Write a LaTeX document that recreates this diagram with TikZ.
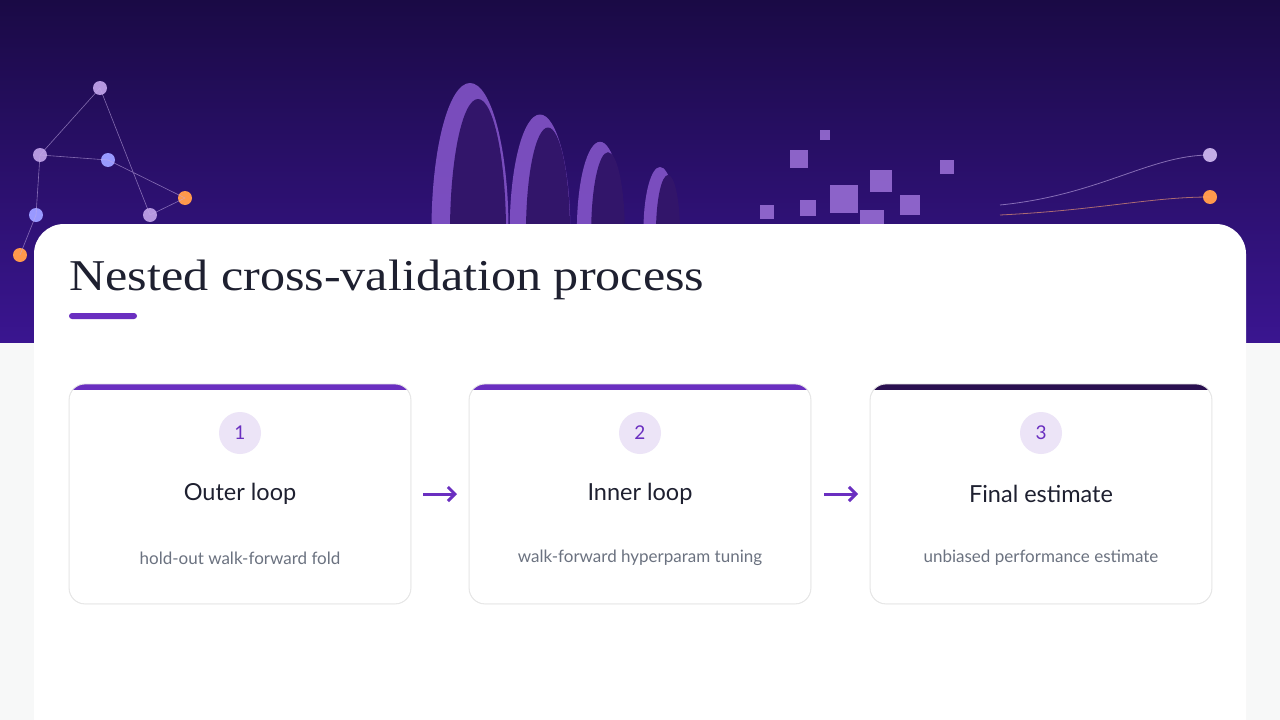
\documentclass[tikz,border=0pt]{standalone}
\usepackage{fontspec}
\setmainfont{Lato}
\usetikzlibrary{arrows.meta,shadows}
\definecolor{hdr}{HTML}{1A0A45}
\definecolor{hdrb}{HTML}{3A1590}
\definecolor{pur}{HTML}{6A2FC0}
\definecolor{dpur}{HTML}{2A1050}
\definecolor{circ}{HTML}{ECE4F7}
\definecolor{bg}{HTML}{F7F8F8}
\definecolor{sub}{HTML}{6B7280}
\definecolor{ttl}{HTML}{1E2030}
\begin{document}
\begin{tikzpicture}[x=1pt,y=-1pt,
  card/.style={draw=black!10,fill=white,rounded corners=16pt,line width=0.8pt},
  num/.style={circle,fill=circ,minimum size=42pt,inner sep=0,text=pur,font=\fontsize{19}{19}\selectfont},
  ctitle/.style={text=ttl,font=\fontsize{23.5}{23.5}\selectfont},
  csub/.style={text=sub,font=\fontsize{17}{17}\selectfont},
  arr/.style={-{Straight Barb[length=7pt,width=14pt]},line width=3pt,pur}]
\useasboundingbox (0,0) rectangle (1280,720);
\fill[bg] (0,0) rectangle (1280,720);
\shade[top color=hdr,bottom color=hdrb] (0,0) rectangle (1280,342);
% decorative header elements
\foreach \x/\r in {470/70,540/55,600/42,660/30}{
  \fill[pur!80!white,opacity=.85] (\x,230) ellipse ({\r*0.55} and {\r*2.1});
  \fill[hdr!70!pur] (\x+8,232) ellipse ({\r*0.4} and {\r*1.9});
}
\foreach \x/\y/\s in {790/150/18,830/185/28,870/170/22,800/200/16,900/195/20,940/160/14,860/210/24,760/205/14,820/130/10}{
  \fill[pur!70!white,opacity=.9] (\x,\y) rectangle ++(\s,\s);
}
\foreach \x/\y/\c in {40/155/pur!50!white,100/88/pur!50!white,150/215/pur!50!white,185/198/orange!60!pink,20/255/orange!60!pink,1210/155/pur!40!white,1210/197/orange!60!pink,36/215/blue!40!white,108/160/blue!40!white}{
  \fill[\c] (\x,\y) circle (7);
}
\draw[pur!40!white,opacity=.6,line width=.6pt] (40,155)--(100,88)--(150,215)--(185,198)--(108,160)--(40,155)--(36,215)--(20,255);
\draw[orange!40!pink,opacity=.6,line width=.8pt] (1000,215) .. controls (1100,210) and (1150,197) .. (1210,197);
\draw[pur!40!white,opacity=.6,line width=.8pt] (1000,205) .. controls (1100,195) and (1150,155) .. (1210,155);
% main white card
\fill[white] (34,720) -- (34,254) arc (180:270:30) -- (1216,224) arc (270:360:30) -- (1246,720) -- cycle;
\node[anchor=base west,inner sep=0,text=ttl,font=\fontspec{Liberation Serif}\fontsize{44}{44}\selectfont] (title) at (69,290) {\scalebox{1.14}[1]{Nested cross-validation process}};
\fill[pur,rounded corners=3pt] (69,313) rectangle (137,319);
% cards
\foreach \i/\x/\t/\s/\c in {1/69/Outer loop/hold-out walk-forward fold/pur,2/469/Inner loop/walk-forward hyperparam tuning/pur,3/870/Final estimate/unbiased performance estimate/dpur}{
  \begin{scope}
    \clip[rounded corners=16pt] (\x,384) rectangle (\x+342,604);
    \filldraw[card] (\x,384) rectangle (\x+342,604);
    \fill[\c] (\x,384) rectangle (\x+342,390);
  \end{scope}
  \draw[black!10,line width=.8pt,rounded corners=16pt] (\x,384) rectangle (\x+342,604);
  \node[num] (n\i) at (\x+171,433) {\i};
  \node[ctitle] (t\i) at (\x+171,494) {\t};
  \node[csub] (s\i) at (\x+171,558) {\s};
}
\coordinate (a1) at (423,494); \coordinate (b1) at (457,494);
\coordinate (a2) at (824,494); \coordinate (b2) at (858,494);
\draw[arr] (a1) -- (b1);
\draw[arr] (a2) -- (b2);
\end{tikzpicture}
\end{document}
